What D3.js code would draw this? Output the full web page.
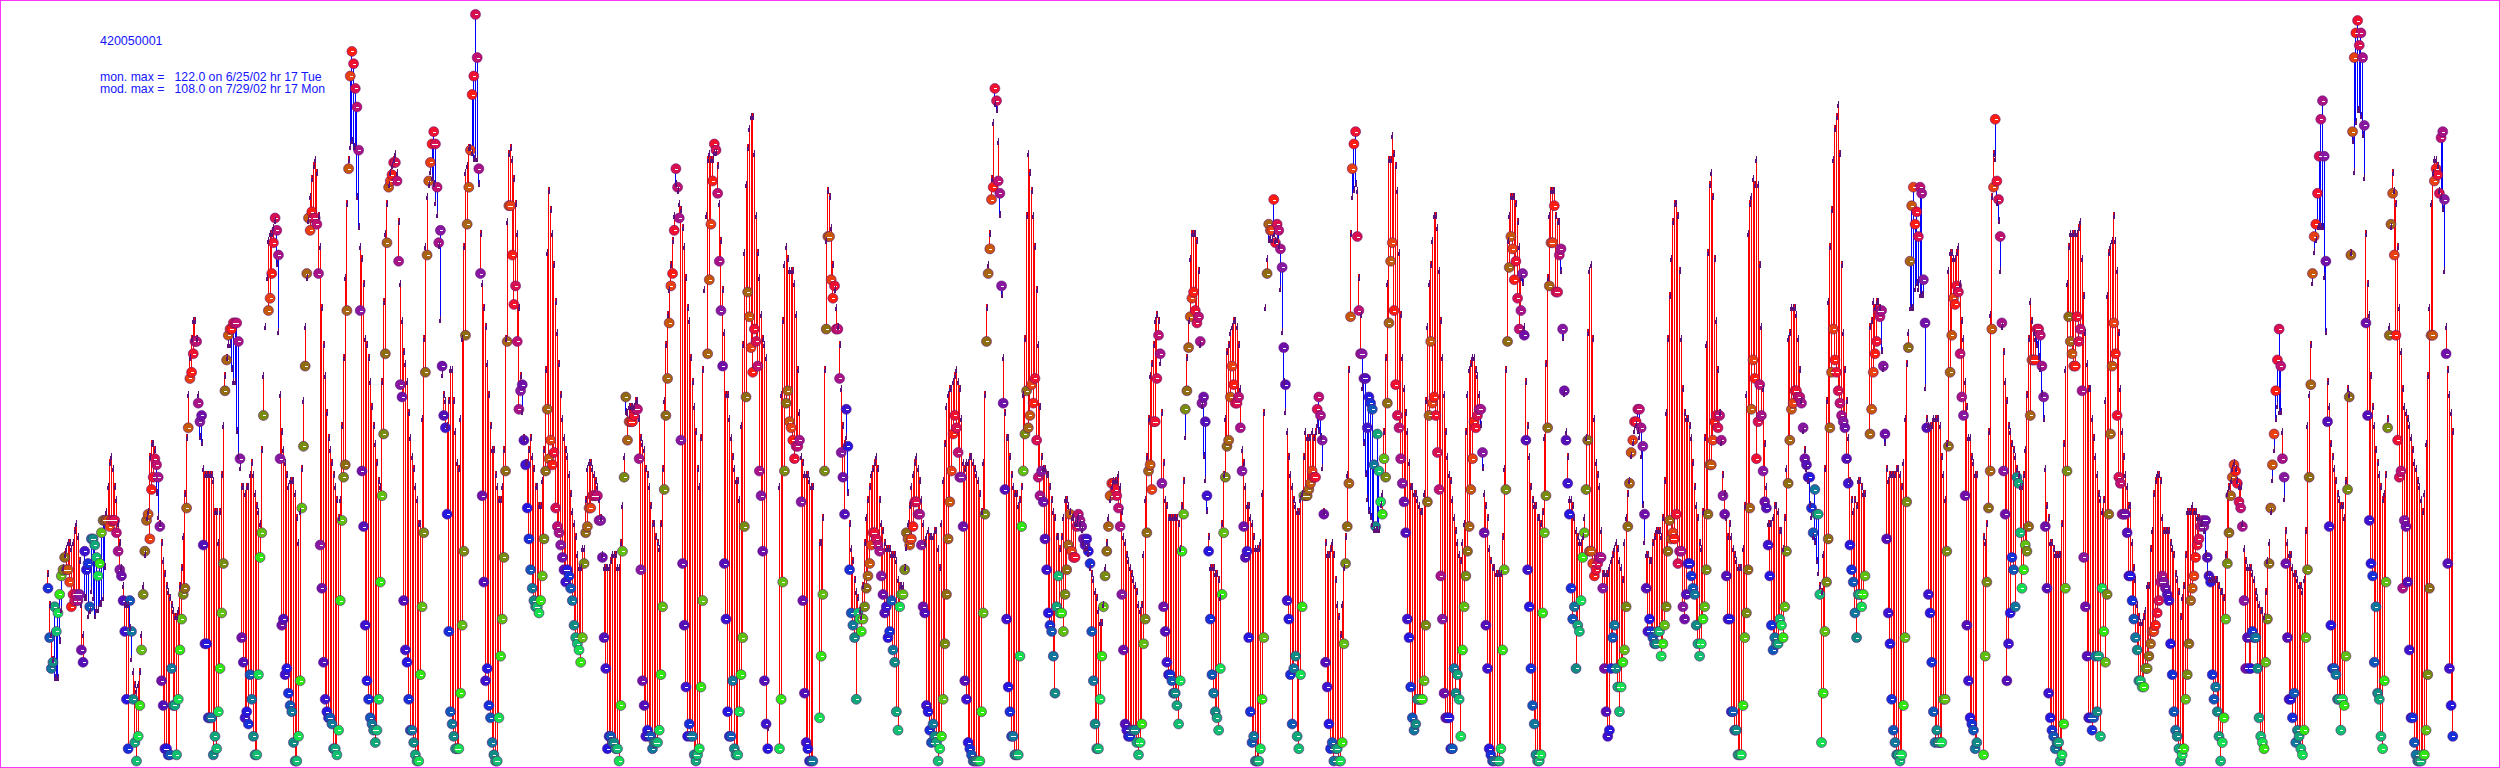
<!DOCTYPE html>
<html><head><meta charset="utf-8">
<script src="https://cdn.jsdelivr.net/npm/d3@7"></script>
<style>html,body{margin:0;padding:0;background:#fff;overflow:hidden}svg{display:block}text{font-family:"Liberation Sans",Arial,sans-serif}</style>
</head><body><div id="chart"></div>
<script>
const siteId = "420050001";
const infoLines = ["mon. max =   122.0 on 6/25/02 hr 17 Tue", "mod. max =   108.0 on 7/29/02 hr 17 Mon"];
const n = null;
// hourly monitor values, one row per day, from 6/15/02 hour 0
const monitorByDay = [
[n,29,21,16,17,26,22,25,28,31,32,34,32,32,30,26,28,27,28,27,28,19,17,35],
[32,33,26,37,37,36,34,31,33,38,40,40,40,40,39,40,40,40,38,35,32,31,27,22],
[11,3,27,22,11,4,1,5,10,19,28,35,40,41,37,45,47,50,49,47,39,14,10,3],
[3,2,2,16,10,10,2,11,19,24,28,29,42,55,63,64,67,69,69,59,56,57,36,20],
[20,8,8,8,2,5,3,9,16,25,33,61,66,70,71,71,72,72,72,69,50,21,17,8],
[9,7,15,11,5,2,2,15,34,38,57,n,n,74,76,80,85,89,87,83,50,23,24,15],
[16,12,10,9,4,1,1,5,14,42,52,65,80,89,87,90,89,89,88,80,36,29,17,11],
[9,8,8,7,3,3,2,6,27,40,47,49,74,97,112,116,114,110,107,100,74,48,39,23],
[14,11,8,7,6,4,6,11,30,44,54,67,85,94,95,96,98,98,95,82,62,60,27,19],
[17,11,6,6,4,2,1,1,15,26,38,64,83,95,98,101,103,101,94,85,87,65,57,55],
[41,22,9,7,5,3,3,3,12,23,35,70,88,94,100,109,112,122,115,97,80,44,30,14],
[16,10,8,4,2,1,1,8,18,24,34,48,69,91,91,83,75,78,69,58,61,62,53,49],
[42,37,32,29,27,26,26,25,27,31,37,48,58,50,53,49,51,42,39,38,36,34,32,30],
[32,31,29,27,23,21,20,19,17,21,33,38,39,42,42,44,44,44,44,40,40,34,21,16],
[3,5,5,4,4,3,3,1,10,35,47,60,53,56,56,56,57,58,58,50,32,14,10,5],
[6,5,5,3,4,4,4,6,15,26,45,57,63,72,78,80,87,97,94,89,53,33,23,13],
[5,7,5,5,2,1,2,3,13,27,n,n,67,79,88,95,101,100,93,82,74,65,33,24],
[9,5,5,14,3,2,2,9,15,21,39,60,77,73,68,64,71,69,65,48,44,35,14,7],
[3,n,n,n,n,n,n,3,11,30,48,59,61,56,55,53,50,52,52,53,43,27,12,4],
[3,1,1,1,n,n,n,8,18,28,48,71,86,86,79,76,78,71,71,63,51,47,41,58],
[52,32,25,23,21,11,25,24,22,24,26,29,31,33,36,38,38,37,36,35,31,28,25,26],
[21,22,27,19,17,9,6,26,28,28,32,38,37,36,37,39,43,43,41,41,36,26,25,10],
[9,6,4,7,5,4,1,3,5,11,20,28,37,43,48,54,57,55,51,47,47,39,14,11],
[4,3,2,1,1,1,1,1,9,25,41,69,80,84,92,94,110,108,95,93,78,59,45,24],
[13,9,5,5,2,2,2,18,39,48,54,61,55,57,62,59,63,53,47,44,48,43,37,32],
[25,23,22,18,12,26,31,25,25,22,28,32,36,41,35,34,34,39,41,40,39,37,36,37],
[35,33,22,14,7,3,3,11,18,26,31,35,39,44,46,46,45,44,42,39,28,19,7,6],
[5,5,6,6,6,4,2,4,7,20,24,38,48,49,45,56,56,63,70,67,46,26,22,17],
[15,15,14,12,12,10,7,14,35,41,58,61,68,73,76,77,74,72,73,69,59,60,56,44],
[35,24,15,12,9,8,6,16,28,38,47,52,53,60,65,62,59,59,60,55,48,39,34,35],
[21,9,4,5,1,1,1,3,11,21,n,80,88,87,87,92,85,88,87,84,81,68,62,27],
[24,15,7,16,18,5,3,15,26,44,44,44,45,46,48,47,47,58,60,57,53,41,17,13],
[7,3,4,1,3,3,1,1,4,20,33,39,46,73,97,101,103,86,74,67,67,63,63,55],
[60,59,58,49,39,54,48,43,41,50,47,59,72,82,85,74,62,57,55,50,46,43,38,24],
[21,13,8,6,7,11,11,11,11,14,23,43,57,69,59,60,57,51,45,31,24,12,8,8],
[8,3,3,16,12,15,11,5,19,26,31,35,39,45,50,56,55,57,58,58,51,38,23,16],
[3,2,1,1,n,1,1,3,19,32,45,69,81,86,84,79,82,76,71,74,80,70,53,32],
[26,16,10,7,2,1,1,2,25,38,44,55,78,85,85,91,77,77,83,84,71,61,53,46],
[41,29,24,26,16,23,22,27,34,38,45,53,35,35,33,31,32,33,34,34,29,16,9,5],
[6,16,21,23,16,13,9,13,17,19,26,39,46,51,53,56,56,58,58,55,52,41,29,22],
[24,22,21,20,20,22,22,18,20,23,26,35,40,37,38,37,41,33,35,35,26,24,28,33],
[33,31,29,28,23,20,18,20,24,26,32,41,49,49,53,56,57,55,57,53,44,41,31,24],
[24,9,9,6,6,2,2,2,10,21,25,32,42,58,66,63,50,56,62,57,48,43,42,36],
[31,23,19,21,20,20,24,23,21,26,35,46,53,58,59,61,61,60,60,59,55,50,49,47],
[47,42,38,45,41,41,28,4,12,22,30,37,55,64,71,66,64,61,59,57,56,55,50,46],
[36,32,30,25,21,28,28,26,28,31,n,n,54,58,64,67,69,74,73,74,65,54,37,25],
[20,11,6,4,2,2,1,2,10,21,43,68,82,91,94,88,90,86,94,93,79,72,55,28],
[25,17,9,4,6,4,4,4,11,11,35,52,64,70,76,75,78,77,67,60,57,44,23,14],
[8,7,6,3,4,n,n,n,2,18,30,42,48,71,94,105,95,92,86,72,48,41,14,20],
[25,34,32,26,47,46,38,29,32,36,35,39,57,66,66,66,71,71,70,65,60,39,29,12],
[8,6,5,3,4,4,1,2,7,29,48,73,69,67,65,65,73,69,71,61,34,26,18,8],
[8,6,8,18,9,18,5,29,22,17,28,41,54,65,72,67,57,47,46,41,41,41,38,31],
[31,27,24,21,19,14,14,13,13,16,16,18,20,22,22,23,25,27,30,31,30,29,28,27],
[20,15,9,6,5,3,1,2,3,11,15,20,27,29,31,34,36,37,39,40,39,40,34,31],
[30,15,11,13,9,5,1,4,8,24,33,38,44,47,49,48,46,43,42,39,27,16,21,16],
[16,22,21,21,16,8,5,4,3,17,24,33,42,49,54,61,66,71,65,50,47,33,21,11],
[11,8,12,4,6,5,3,2,6,21,32,47,62,80,86,88,93,99,105,108,99,82,56,39],
[23,16,16,15,11,11,6,11,10,18,45,60,83,103,115,119,121,117,119,115,104,72,57,40],
[33,31,17,26,12,11,5,3,14,30,55,70,88,93,83,70,53,47,48,29,40,39,30,19],
[8,8,4,2,1,1,1,2,2,6,15,29,70,70,95,97,96,93,102,103,92,67,33,16],
[10,5]
];
// hourly model values, same layout
const modelByDay = [
[n,32,27,22,18,14,14,14,20,25,33,35,36,37,37,36,37,39,40,38,34,27,22,27],
[27,24,26,28,27,24,25,25,26,26,27,32,42,46,50,51,49,46,44,40,37,33,30,27],
[27,27,22,17,16,14,13,14,16,22,30,35,41,42,51,53,53,52,44,40,40,37,34,32],
[30,29,28,27,26,25,25,26,30,33,38,45,54,61,67,70,73,73,70,61,53,52,49,48],
[48,48,48,48,47,42,42,37,42,48,56,64,67,68,68,64,62,62,54,50,48,46,46,45],
[46,46,48,50,48,45,43,42,40,52,64,72,80,86,87,87,88,88,81,70,61,55,52,50],
[48,46,47,47,47,45,41,37,42,49,60,72,80,88,93,96,98,99,97,90,85,75,69,64],
[58,54,52,50,48,46,44,41,44,56,67,80,92,99,100,101,100,100,92,87,85,83,79,70],
[69,67,63,59,56,53,50,47,46,63,76,87,92,95,97,98,99,100,97,89,79,73,68,66],
[63,58,54,51,49,46,44,40,40,57,70,85,93,95,96,95,94,91,89,84,72,63,61,60],
[56,60,65,65,60,55,50,49,57,70,85,97,98,101,101,99,98,98,98,94,87,79,75,72],
[66,61,56,52,52,48,46,44,44,46,52,70,89,100,101,99,96,92,87,75,64,57,54,50],
[50,52,54,51,49,46,46,43,43,47,52,65,84,94,91,87,82,76,71,66,61,57,54,52],
[51,48,45,42,40,38,35,33,33,36,36,44,49,50,50,49,48,47,46,44,41,35,33,33],
[33,33,34,35,35,35,33,33,37,43,51,57,58,59,59,59,59,60,60,57,54,53,52,49],
[48,46,43,40,40,38,37,36,40,49,60,69,74,78,82,86,90,94,94,92,91,88,85,80],
[75,73,67,63,59,55,49,46,54,65,78,90,99,100,99,99,99,99,98,92,86,78,71,61],
[61,57,54,51,49,47,47,44,56,69,84,95,101,104,106,106,100,90,84,80,74,70,69,67],
[7,n,n,n,n,n,n,46,61,73,82,85,83,81,81,81,79,74,65,58,51,50,48,48],
[48,47,46,46,n,n,n,37,37,41,65,86,94,93,88,82,78,75,72,69,62,56,53,53],
[44,40,36,34,31,29,28,26,25,30,37,41,44,46,48,49,50,51,49,44,40,39,37,36],
[36,36,35,35,35,34,31,30,30,30,33,35,40,43,46,48,50,51,49,47,44,40,37,38],
[39,38,38,38,39,39,36,33,40,47,53,59,61,62,62,63,64,65,63,62,57,50,49,50],
[50,51,51,50,49,48,47,45,42,50,61,75,82,87,96,105,107,106,102,89,76,67,58,54],
[54,51,48,46,45,45,43,44,46,61,70,90,100,97,94,90,85,78,69,59,51,49,49,48],
[48,46,44,42,41,38,38,36,38,41,44,44,43,42,41,41,40,40,40,39,38,37,36,35],
[34,33,32,31,29,28,26,24,24,27,33,37,41,44,46,47,47,47,48,46,42,38,37,35],
[34,33,32,31,30,29,27,26,27,35,44,51,57,64,66,69,73,74,73,65,58,50,44,43],
[41,41,41,41,41,41,40,36,43,47,53,67,73,83,87,87,87,86,81,69,58,50,46,41],
[38,33,33,33,32,32,31,28,40,48,57,68,69,71,72,73,73,72,69,62,52,50,46,43],
[43,41,40,38,36,36,36,37,45,58,75,83,85,85,85,86,86,85,84,77,70,62,57,55],
[51,48,46,44,43,42,42,44,45,51,55,54,54,54,55,54,55,55,54,53,48,42,37,35],
[35,36,37,35,31,27,25,22,27,33,38,48,65,87,92,93,94,94,80,74,61,52,47,43],
[41,40,39,38,38,38,38,42,45,55,67,79,99,99,103,100,98,94,84,74,67,62,58,55],
[50,46,46,45,45,44,43,42,42,45,60,72,79,82,86,90,90,88,81,73,67,61,55,51],
[48,47,44,41,39,37,35,34,37,40,55,61,65,66,67,67,65,64,61,55,48,45,43,41],
[36,34,33,33,32,32,32,32,38,49,65,86,90,93,93,93,92,89,85,80,78,72,63,56],
[51,46,44,43,43,41,41,40,42,54,66,80,90,94,94,94,90,89,89,80,69,60,55,51],
[44,44,43,41,39,38,37,37,38,41,54,71,81,82,70,57,50,48,46,39,32,32,32,32],
[33,34,35,36,37,36,34,33,31,37,41,45,47,50,52,54,55,54,53,50,42,36,35,35],
[34,34,37,38,39,39,39,38,41,47,58,70,77,83,89,92,92,90,81,70,62,58,57,57],
[56,54,50,46,43,41,37,36,42,54,69,84,95,97,93,83,73,65,58,52,48,45,41,38],
[40,38,36,35,34,33,33,33,36,43,61,87,92,93,96,95,99,95,82,72,62,53,46,40],
[40,40,41,43,43,42,39,39,36,41,49,70,71,75,75,75,74,70,65,60,54,52,49,47],
[42,40,38,36,33,31,30,29,35,49,60,76,85,91,99,104,106,108,100,82,71,65,60,54],
[47,44,42,44,43,47,47,46,45,45,n,n,72,73,76,75,76,76,75,67,64,52,49,47],
[48,48,48,48,49,49,48,46,50,57,66,71,74,74,74,77,78,77,76,76,76,61,57,56],
[56,56,57,57,57,57,56,51,48,44,53,81,84,84,83,83,84,85,79,73,70,63,59,54],
[54,51,50,48,48,n,n,n,38,37,40,55,74,93,100,98,91,88,80,72,68,63,60,56],
[55,53,52,51,49,48,46,46,48,52,61,70,76,73,71,70,68,66,64,60,56,49,43,41],
[37,37,36,35,35,35,35,40,53,65,79,85,87,87,87,87,87,88,89,83,77,71,66,62],
[62,57,54,51,48,45,44,42,44,60,77,84,85,86,90,86,81,71,62,55,51,48,46,43],
[43,37,33,31,27,25,24,24,25,26,30,30,36,39,45,47,48,48,47,41,39,39,39,39],
[37,36,35,32,31,29,25,28,30,35,42,42,42,43,42,42,41,41,40,39,39,34,31,31],
[31,31,31,31,31,30,29,29,28,35,45,46,47,49,50,49,47,46,46,40,36,34,33,33],
[33,32,31,29,28,27,26,26,25,29,34,37,42,46,51,56,58,57,57,55,43,39,37,35],
[35,33,32,32,31,30,30,29,31,39,56,61,69,78,83,85,87,87,87,87,79,70,63,59],
[53,51,49,47,45,44,43,43,41,47,62,61,84,101,96,104,106,106,105,102,95,87,79,74],
[64,59,56,52,50,48,46,44,45,48,57,72,87,97,94,92,85,75,68,62,59,58,57,56],
[54,52,50,49,47,46,44,42,45,53,64,75,92,97,99,99,98,94,92,90,80,72,65,61],
[58,55]
];
// circle colour for each hour of the day
const hourColors = ["#2418e0","#1430d8","#1058b8","#10789c","#108c84","#10a878","#10c070","#14e050","#30e810","#60c010","#788c10","#906c10","#a86410","#c85808","#e84010","#ff1c10","#f01030","#d81050","#c01070","#a81488","#8818a0","#7010a8","#5410b8","#3c14d0"];

const W = 2500, H = 768;
const outline = "#5c1078";
const rows = monitorByDay.flatMap((day, d) => day.map((mon, h) => ({
  t: d * 24 + h, h, mon, mod: modelByDay[d][h]
})));

const x = d3.scaleLinear().domain([0, 1464]).range([46.3, 46.3 + 1.67 * 1464]);
const y = d3.scaleLinear().domain([0, 122]).range([767.2, 14.4]);

const svg = d3.select("#chart").append("svg").attr("width", W).attr("height", H);
svg.append("rect").attr("x", 0.5).attr("y", 0.5).attr("width", W - 1).attr("height", H - 1)
  .attr("fill", "#fff").attr("stroke", "#ff33ff").attr("stroke-width", 1);

const both = rows.filter(r => r.mon !== null && r.mod !== null);
svg.append("g").attr("shape-rendering", "crispEdges").selectAll("line").data(both).join("line")
  .attr("x1", r => x(r.t)).attr("x2", r => x(r.t))
  .attr("y1", r => y(r.mon)).attr("y2", r => y(r.mod))
  .attr("stroke", r => r.mod >= r.mon ? "#ff0000" : "#0000ff").attr("stroke-width", 1);

const obs = rows.filter(r => r.mon !== null);
svg.append("g").selectAll("circle").data(obs).join("circle")
  .attr("cx", r => x(r.t)).attr("cy", r => y(r.mon)).attr("r", 5)
  .attr("fill", r => hourColors[r.h]).attr("stroke", outline).attr("stroke-width", 0.7).attr("stroke-opacity", 0.8);
svg.append("g").attr("shape-rendering", "crispEdges").selectAll("rect").data(obs).join("rect")
  .attr("x", r => x(r.t) - 0.5).attr("y", r => y(r.mon)).attr("width", 3).attr("height", 1).attr("fill", "#fff");

const mod = rows.filter(r => r.mod !== null);
const tickTop = r => (r.mon !== null && r.mod < r.mon) ? y(r.mod) - 7 : y(r.mod);
const ticks = svg.append("g").attr("shape-rendering", "crispEdges").attr("fill", outline);
ticks.selectAll("rect.a").data(mod).join("rect").attr("class", "a")
  .attr("x", r => Math.round(x(r.t))).attr("y", tickTop).attr("width", 1).attr("height", 7);
ticks.selectAll("rect.b").data(mod).join("rect").attr("class", "b")
  .attr("x", r => Math.round(x(r.t)) - 1).attr("y", r => tickTop(r) + 3).attr("width", 2).attr("height", 4);

const info = svg.append("g").attr("fill", "#1414ff");
info.append("text").attr("x", 100).attr("y", 45).attr("font-size", 12.5).text(siteId);
info.selectAll("text.l").data(infoLines).join("text").attr("class", "l")
  .attr("x", 100).attr("y", (d, i) => 81 + i * 12).attr("font-size", 12.25)
  .style("white-space", "pre").text(d => d);
</script></body></html>
